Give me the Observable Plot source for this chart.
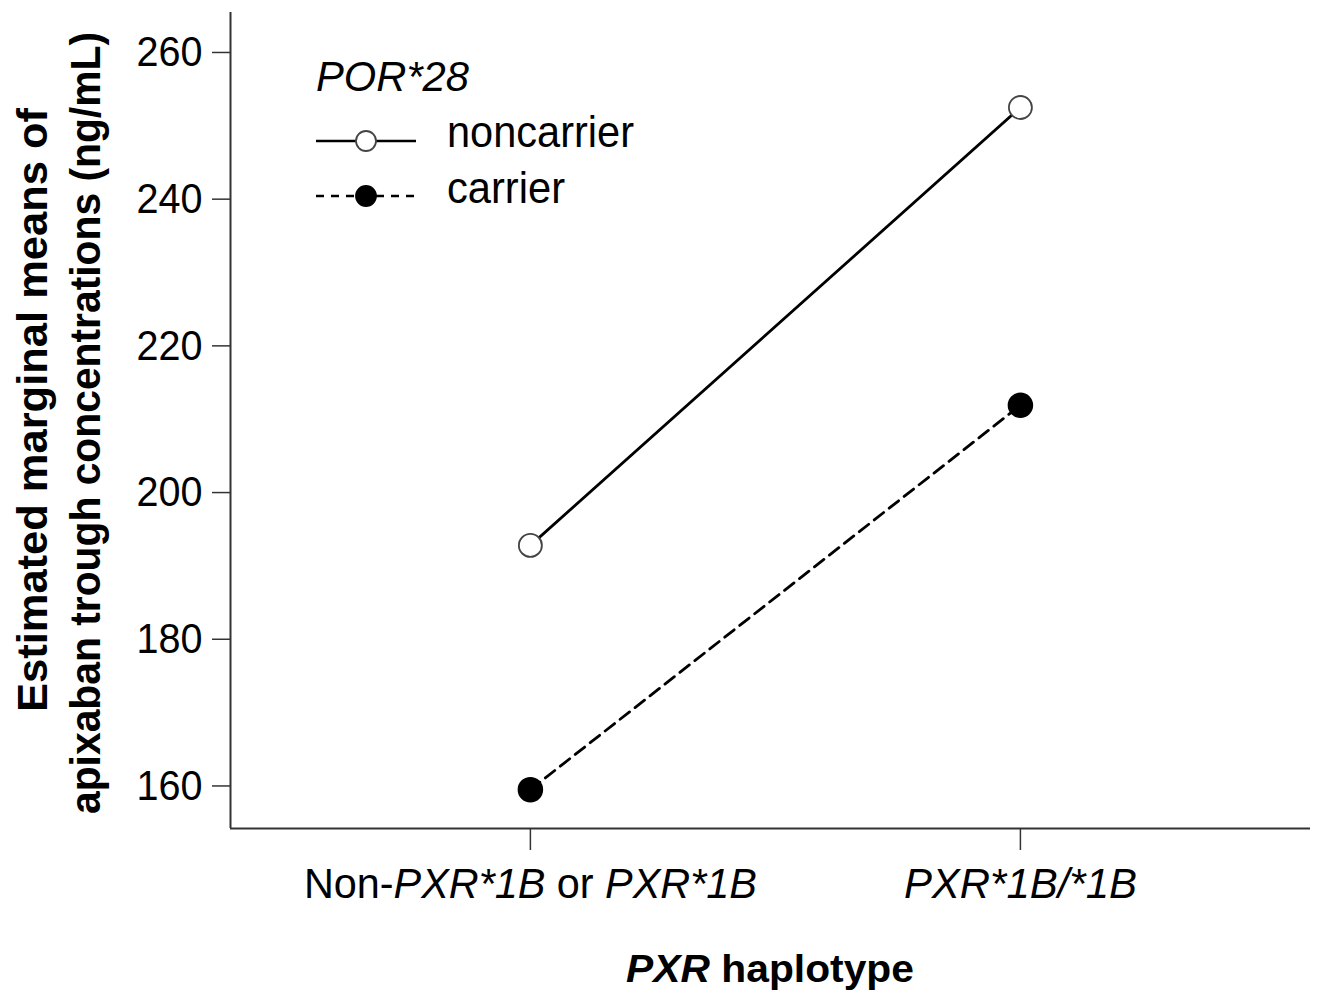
<!DOCTYPE html>
<html><head><meta charset="utf-8">
<script src="https://cdn.jsdelivr.net/npm/d3@7"></script>
<script src="https://cdn.jsdelivr.net/npm/@observablehq/plot@0.6"></script>
<style>
body{margin:0;background:#fff;}
#chart svg{font-family:"Liberation Sans",Arial,sans-serif;}
</style></head><body><div id="chart"></div>
<script>
const categories = ["Non-PXR*1B or PXR*1B", "PXR*1B/*1B"];
const seriesNames = ["noncarrier", "carrier"];
const noncarrier = [192.8, 252.5];
const carrier = [159.5, 211.9];
const yTicks = [160, 180, 200, 220, 240, 260];
const legendTitle = "POR*28";

const nonData = categories.map((c, i) => ({i, cat: c, v: noncarrier[i]}));
const carData = categories.map((c, i) => ({i, cat: c, v: carrier[i]}));
const xDomain = [-0.612, 1.592];
const yDomain = [154.2, 265.45];
const FONT = '"Liberation Sans",Arial,sans-serif';

const plot = Plot.plot({
  width: 1326, height: 998,
  marginLeft: 230, marginRight: 16, marginTop: 12, marginBottom: 170,
  style: {fontFamily: FONT, background: "#fff", color: "#000"},
  x: {domain: xDomain},
  y: {domain: yDomain},
  marks: [
    Plot.ruleY([yDomain[0]], {stroke: "#333", strokeWidth: 2}),
    Plot.ruleX([xDomain[0]], {stroke: "#333", strokeWidth: 2}),
    Plot.axisX({ticks: [0, 1], tickFormat: i => categories[i], tickSize: 22, tickPadding: 18,
      fontSize: 42, stroke: "#333", strokeWidth: 1.5, label: null}),
    Plot.axisY({ticks: yTicks, tickSize: 18, tickPadding: 10, fontSize: 43,
      stroke: "#333", strokeWidth: 1.5, label: null}),
    Plot.line(nonData, {x: "i", y: "v", stroke: "#000", strokeWidth: 2.8}),
    Plot.line(carData, {x: "i", y: "v", stroke: "#000", strokeWidth: 2.8, strokeDasharray: "12,7"}),
    Plot.dot(nonData, {x: "i", y: "v", r: 11.5, fill: "#fff", stroke: "#444", strokeWidth: 1.8}),
    Plot.dot(carData, {x: "i", y: "v", r: 12, fill: "#000", stroke: "#000"})
  ]
});
document.getElementById("chart").appendChild(plot);

const svg = d3.select(plot);
function fit(sel, len) { sel.attr("textLength", len).attr("lengthAdjust", "spacingAndGlyphs"); }

// mixed italic tick labels
function richLabel(text) {
  const parts = [];
  const re = /(PXR\*1B\/\*1B|PXR\*1B)/g;
  let last = 0, m;
  while ((m = re.exec(text))) {
    if (m.index > last) parts.push({t: text.slice(last, m.index), it: false});
    parts.push({t: m[0], it: true});
    last = m.index + m[0].length;
  }
  if (last < text.length) parts.push({t: text.slice(last), it: false});
  return parts;
}
const xLabelLen = [453, 233];
svg.selectAll('g[aria-label="x-axis tick label"] text').each(function(d, k) {
  const el = d3.select(this);
  const txt = el.text();
  el.text(null);
  richLabel(txt).forEach(p => {
    el.append("tspan").attr("font-style", p.it ? "italic" : "normal").text(p.t);
  });
  fit(el, xLabelLen[categories.indexOf(txt)] ?? xLabelLen[k]);
});
svg.selectAll('g[aria-label="y-axis tick label"] text').each(function() {
  fit(d3.select(this), 66);
});

// axis titles
const xs = plot.scale("x");
const cx = (xs.apply(xDomain[0]) + xs.apply(xDomain[1])) / 2;
const xt = svg.append("text").attr("x", cx).attr("y", 982).attr("text-anchor", "middle")
  .attr("font-size", 39).attr("font-weight", "bold").attr("font-family", FONT);
xt.append("tspan").attr("font-style", "italic").text("PXR");
xt.append("tspan").text(" haplotype");
fit(xt, 288);

const yl = svg.append("g").attr("font-weight", "bold").attr("font-family", FONT)
  .attr("text-anchor", "middle");
const y1 = yl.append("text").attr("font-size", 42).attr("transform", `translate(47,410) rotate(-90)`)
  .text("Estimated marginal means of");
fit(y1, 604);
const y2 = yl.append("text").attr("font-size", 42).attr("transform", `translate(100,423) rotate(-90)`)
  .text("apixaban trough concentrations (ng/mL)");
fit(y2, 782);

// legend
const lg = svg.append("g").attr("font-family", FONT).attr("text-anchor", "start");
const lt = lg.append("text").attr("x", 316).attr("y", 91).attr("font-size", 42)
  .attr("font-style", "italic").text(legendTitle);
fit(lt, 153);
const rows = [{name: seriesNames[0], y: 141, ty: 147, dash: null, fill: "#fff", stroke: "#444", len: 187},
              {name: seriesNames[1], y: 196, ty: 203, dash: "8,7", fill: "#000", stroke: "#000", len: 118}];
rows.forEach(r => {
  lg.append("line").attr("x1", 316).attr("x2", 416).attr("y1", r.y).attr("y2", r.y)
    .attr("stroke", "#000").attr("stroke-width", 2.6).attr("stroke-dasharray", r.dash);
  lg.append("circle").attr("cx", 366).attr("cy", r.y).attr("r", 10).attr("fill", r.fill)
    .attr("stroke", r.stroke).attr("stroke-width", 1.8);
  const t = lg.append("text").attr("x", 447).attr("y", r.ty).attr("font-size", 45).text(r.name);
  fit(t, r.len);
});
</script></body></html>
